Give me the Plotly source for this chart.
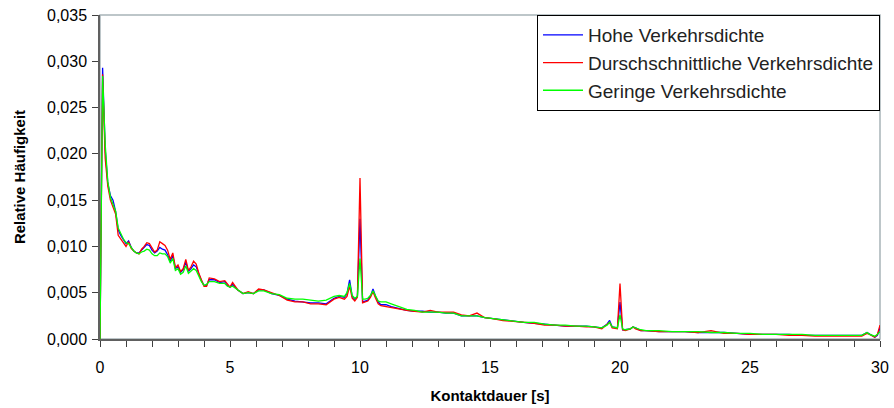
import plotly.graph_objects as go

# Kontaktdauer [s]
dauer = [
    0.0, 0.1, 0.2, 0.3, 0.4, 0.5, 0.6, 0.7, 0.8, 0.9,
    1.0, 1.1, 1.2, 1.3, 1.4, 1.5, 1.6, 1.7, 1.8, 1.9,
    2.0, 2.1, 2.2, 2.3, 2.4, 2.5, 2.6, 2.7, 2.8, 2.9,
    3.0, 3.1, 3.2, 3.3, 3.4, 3.5, 3.6, 3.7, 3.8, 3.9,
    4.0, 4.1, 4.2, 4.4, 4.6, 4.8, 4.9, 5.0, 5.1, 5.3,
    5.5, 5.7, 5.9, 6.1, 6.3, 6.6, 6.9, 7.2, 7.5, 7.8,
    8.1, 8.4, 8.7, 9.0, 9.2, 9.4, 9.5, 9.6, 9.7, 9.8,
    9.9, 10.0, 10.1, 10.2, 10.3, 10.4, 10.5, 10.6, 10.7, 10.8,
    11.0, 11.2, 11.5, 11.8, 12.1, 12.4, 12.7, 13.0, 13.3, 13.6,
    13.9, 14.2, 14.5, 14.8, 15.1, 15.5, 15.9, 16.3, 16.7, 17.1,
    17.5, 17.9, 18.3, 18.7, 19.0, 19.3, 19.5, 19.6, 19.7, 19.9,
    20.0, 20.1, 20.2, 20.4, 20.5, 20.6, 20.8, 21.0, 21.5, 22.0,
    22.5, 23.0, 23.5, 24.0, 24.5, 25.0, 25.5, 26.0, 26.5, 27.0,
    27.5, 28.0, 28.5, 29.0, 29.3, 29.5, 29.6, 29.8, 29.9, 30.0,
]

hohe = [
    0.0, 0.0293, 0.0205, 0.0168, 0.0155, 0.0150, 0.0138, 0.0118, 0.0112, 0.0108,
    0.0103, 0.0106, 0.0099, 0.0095, 0.0093, 0.0093, 0.0096, 0.0098, 0.0102, 0.0101,
    0.0096, 0.0093, 0.0095, 0.0099, 0.0097, 0.0096, 0.0091, 0.0084, 0.0090, 0.0076,
    0.0078, 0.0072, 0.0075, 0.0083, 0.0073, 0.0076, 0.0080, 0.0078, 0.0070, 0.0063,
    0.0058, 0.0058, 0.0064, 0.0064, 0.0061, 0.0062, 0.0058, 0.0056, 0.0059, 0.0053,
    0.0049, 0.0050, 0.0049, 0.0053, 0.0053, 0.0049, 0.0047, 0.0043, 0.0041, 0.0040,
    0.0039, 0.0039, 0.0038, 0.0044, 0.0046, 0.0045, 0.0049, 0.0064, 0.0046, 0.0043,
    0.0046, 0.0130, 0.0040, 0.0041, 0.0042, 0.0046, 0.0054, 0.0046, 0.0040, 0.0037,
    0.0037, 0.0035, 0.0033, 0.0031, 0.0030, 0.0030, 0.0029, 0.0029, 0.0028, 0.0028,
    0.0025, 0.0025, 0.0025, 0.0023, 0.0022, 0.0020, 0.0019, 0.0018, 0.0017, 0.0016,
    0.0015, 0.0014, 0.0014, 0.0014, 0.0013, 0.0012, 0.0016, 0.0020, 0.0013, 0.0012,
    0.0040, 0.0010, 0.0010, 0.0011, 0.0013, 0.0012, 0.0009, 0.0009, 0.0008, 0.0008,
    0.0008, 0.0007, 0.0007, 0.0007, 0.0006, 0.0005, 0.0005, 0.0005, 0.0005, 0.0004,
    0.0004, 0.0004, 0.0004, 0.0004, 0.0004, 0.0007, 0.0005, 0.0002, 0.0004, 0.0012,
]

durchschnitt = [
    0.0, 0.0286, 0.0195, 0.0165, 0.0150, 0.0142, 0.0135, 0.0112, 0.0108, 0.0104,
    0.0100, 0.0105, 0.0098, 0.0095, 0.0093, 0.0092, 0.0097, 0.0100, 0.0104, 0.0103,
    0.0098, 0.0094, 0.0096, 0.0105, 0.0103, 0.0101, 0.0096, 0.0086, 0.0093, 0.0077,
    0.0080, 0.0073, 0.0076, 0.0086, 0.0074, 0.0078, 0.0084, 0.0081, 0.0071, 0.0063,
    0.0057, 0.0057, 0.0066, 0.0065, 0.0062, 0.0063, 0.0059, 0.0056, 0.0061, 0.0053,
    0.0049, 0.0051, 0.0049, 0.0054, 0.0053, 0.0050, 0.0047, 0.0042, 0.0040, 0.0040,
    0.0038, 0.0038, 0.0037, 0.0043, 0.0045, 0.0043, 0.0046, 0.0057, 0.0044, 0.0041,
    0.0045, 0.0174, 0.0039, 0.0040, 0.0041, 0.0045, 0.0051, 0.0044, 0.0038, 0.0036,
    0.0035, 0.0034, 0.0032, 0.0031, 0.0030, 0.0029, 0.0031, 0.0029, 0.0029, 0.0029,
    0.0026, 0.0025, 0.0028, 0.0023, 0.0022, 0.0020, 0.0019, 0.0018, 0.0017, 0.0015,
    0.0015, 0.0014, 0.0014, 0.0013, 0.0013, 0.0011, 0.0015, 0.0018, 0.0012, 0.0011,
    0.0060, 0.0010, 0.0009, 0.0011, 0.0013, 0.0011, 0.0009, 0.0009, 0.0008, 0.0008,
    0.0008, 0.0007, 0.0009, 0.0006, 0.0006, 0.0005, 0.0005, 0.0005, 0.0004, 0.0004,
    0.0003, 0.0003, 0.0003, 0.0003, 0.0003, 0.0006, 0.0005, 0.0002, 0.0005, 0.0015,
]

geringe = [
    0.0, 0.0284, 0.0210, 0.0170, 0.0153, 0.0146, 0.0138, 0.0120, 0.0113, 0.0108,
    0.0104, 0.0103, 0.0099, 0.0095, 0.0093, 0.0092, 0.0094, 0.0095, 0.0097, 0.0096,
    0.0092, 0.0090, 0.0090, 0.0093, 0.0092, 0.0092, 0.0089, 0.0082, 0.0087, 0.0074,
    0.0076, 0.0070, 0.0072, 0.0079, 0.0071, 0.0073, 0.0076, 0.0074, 0.0068, 0.0062,
    0.0058, 0.0059, 0.0062, 0.0062, 0.0060, 0.0060, 0.0057, 0.0056, 0.0057, 0.0053,
    0.0049, 0.0050, 0.0049, 0.0052, 0.0052, 0.0049, 0.0048, 0.0044, 0.0043, 0.0043,
    0.0042, 0.0041, 0.0042, 0.0046, 0.0047, 0.0046, 0.0050, 0.0060, 0.0047, 0.0044,
    0.0046, 0.0087, 0.0043, 0.0043, 0.0044, 0.0047, 0.0052, 0.0047, 0.0041, 0.0040,
    0.0040, 0.0038, 0.0035, 0.0032, 0.0031, 0.0029, 0.0029, 0.0029, 0.0028, 0.0028,
    0.0025, 0.0025, 0.0025, 0.0023, 0.0022, 0.0020, 0.0019, 0.0018, 0.0018, 0.0016,
    0.0015, 0.0015, 0.0014, 0.0014, 0.0013, 0.0012, 0.0015, 0.0018, 0.0013, 0.0012,
    0.0026, 0.0011, 0.0010, 0.0011, 0.0013, 0.0012, 0.0010, 0.0009, 0.0009, 0.0008,
    0.0008, 0.0008, 0.0007, 0.0007, 0.0006, 0.0006, 0.0005, 0.0005, 0.0005, 0.0005,
    0.0004, 0.0004, 0.0004, 0.0004, 0.0004, 0.0007, 0.0005, 0.0003, 0.0005, 0.0008,
]

serien = [
    ("Hohe Verkehrsdichte", hohe, "#0000FF"),
    ("Durschschnittliche Verkehrsdichte", durchschnitt, "#FF0000"),
    ("Geringe Verkehrsdichte", geringe, "#00FF00"),
]

x_ticks = [0, 5, 10, 15, 20, 25, 30]
y_ticks = [0.0, 0.005, 0.01, 0.015, 0.02, 0.025, 0.03, 0.035]

FONT = "Liberation Sans, Arial, sans-serif"

fig = go.Figure()
for name, vals, col in serien:
    fig.add_trace(go.Scatter(x=dauer, y=vals, mode="lines", name=name,
                             line=dict(color=col, width=1.3)))

fig.update_layout(
    width=894, height=408,
    margin=dict(l=100, r=14, t=15, b=69, autoexpand=False),
    paper_bgcolor="white", plot_bgcolor="white",
    separators=",.",
    font=dict(family=FONT, size=16, color="#000000"),
    showlegend=True,
    legend=dict(x=1, xanchor="right", y=1, yanchor="top",
                bgcolor="white", bordercolor="#000000", borderwidth=1,
                font=dict(family=FONT, size=19, color="#222222"),
                itemwidth=40, tracegroupgap=0),
    shapes=[dict(type="rect", xref="paper", yref="paper", x0=0, x1=1, y0=0, y1=1,
                 line=dict(color="#A8B4B8", width=1.5), layer="below")],
)

fig.update_xaxes(
    range=[0, 30], tickvals=x_ticks, ticks="outside", ticklen=6, tickwidth=1,
    tickcolor="#404040", showline=True, linecolor="#606060", linewidth=1.5,
    showgrid=False, zeroline=False, ticklabelstandoff=7, automargin=False,
    minor=dict(dtick=1, ticks="outside", ticklen=6, tickcolor="#404040"),
    title=dict(text="<b>Kontaktdauer [s]</b>", font=dict(size=15), standoff=16),
)
fig.update_yaxes(
    range=[0, 0.035], tickvals=y_ticks, tickformat=".3f", ticks="outside",
    ticklen=6, tickcolor="#404040", showline=True, linecolor="#606060",
    linewidth=1.5, showgrid=False, zeroline=False, ticklabelstandoff=2,
    automargin=False,
    title=dict(text="<b>Relative Häufigkeit</b>", font=dict(size=15), standoff=18),
)

fig.write_html("out.html")
